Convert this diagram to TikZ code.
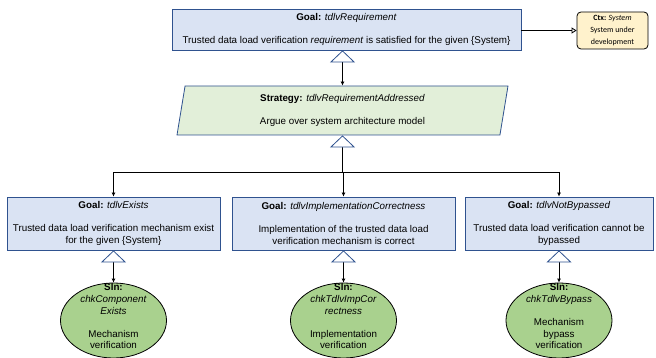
\documentclass[tikz,border=0pt]{standalone}
\usepackage{fontspec}
\setmainfont{Liberation Sans}
\newfontfamily\ctxfont{Carlito}
\usetikzlibrary{positioning}
\usetikzlibrary{arrows.meta}
\usetikzlibrary{shapes.geometric}
\definecolor{gfill}{HTML}{DAE3F3}
\definecolor{gline}{HTML}{2F528F}
\definecolor{sfill}{HTML}{E2EFD9}
\definecolor{efill}{HTML}{A9D18E}
\definecolor{cfill}{HTML}{FFF2CC}
\tikzset{goal/.style = {draw = gline, fill = gfill, line width = 0.8pt, align = center,
    inner sep = 0, font = \fontsize{9.8}{11.6}\selectfont}}
\tikzset{strat/.style = {goal, fill = sfill, shape = trapezium, trapezium left angle = 76,
    trapezium right angle = 104, trapezium stretches body}}
\tikzset{ctx/.style = {draw, fill = cfill, rounded corners = 4pt, line width = 0.8pt,
    align = center, inner sep = 0, font = \ctxfont\fontsize{8}{12}\selectfont}}
\tikzset{sln/.style = {draw, fill = efill, ellipse, line width = 0.8pt, inner sep = 0}}
\tikzset{slntxt/.style = {align = center, inner sep = 0, anchor = north,
    font = \fontsize{9.8}{11.6}\selectfont}}
\tikzset{opentri/.tip = {Triangle[open, width = 25pt, length = 12pt, color = gline, fill = white]}}
\tikzset{suppby/.style = {line width = 0.8pt, {opentri}-{Latex[length = 4pt, width = 4pt]}}}
\tikzset{suppstart/.style = {line width = 0.8pt, {opentri}-}}
\tikzset{suppend/.style = {line width = 0.8pt, -{Latex[length = 4pt, width = 4pt]}}}
\tikzset{inctx/.style = {line width = 0.8pt, -{Triangle[open, width = 6pt, length = 5pt, fill = white]}}}

\begin{document}
\begin{tikzpicture}[x = 1pt, y = -1pt]
      \useasboundingbox (0, 0) rectangle (656, 358);
      % top goal and its context
      \node [goal, minimum width = 349, minimum height = 41] (top) at (346.5, 29.5)
        {\textbf{Goal:} \textit{tdlvRequirement}\\[11.6pt]Trusted data load verification
        \textit{requirement} is satisfied for the given \{System\}};
      \node [ctx, minimum width = 71, minimum height = 37] (sys) at (612.5, 30.5)
        {\textbf{Ctx:} \textit{System}\\System under\\development};
      \draw [inctx] (top.east |- sys.west) -- (sys.west);
      % strategy
      \node [strat, minimum width = 331, minimum height = 49] (addr) at (342.5, 110.5)
        {\textbf{Strategy:} \textit{tdlvRequirementAddressed}\\[11.6pt]Argue over system
        architecture model};
      \draw [suppby] (addr.north |- top.south) -- (addr.north);
      % sub goals
      \node [goal, minimum width = 213, minimum height = 53] (exists) at (113.5, 223.5)
        {\textbf{Goal:} \textit{tdlvExists}\\[11.6pt]Trusted data load verification
        mechanism exist\\for the given \{System\}};
      \node [goal, minimum width = 223, minimum height = 53] (impl) at (343.5, 223.5)
        {\textbf{Goal:} \textit{tdlvImplementationCorrectness}\\[11.6pt]Implementation
        of the trusted data load\\verification mechanism is correct};
      \node [goal, minimum width = 188, minimum height = 53] (byp) at (559, 223.5)
        {\textbf{Goal:} \textit{tdlvNotBypassed}\\[11.6pt]Trusted data load verification
        cannot be\\bypassed};
      \coordinate (bus) at (addr.south |- 0, 172);
      \draw [suppstart] (addr.south) -- (bus);
      \draw [suppend] (bus) -| (exists.north);
      \draw [suppend] (bus) -| (impl.north);
      \draw [suppend] (bus) -| (byp.north);
      % solutions
      \node [sln, minimum width = 106, minimum height = 75] (s1) at (113.5, 320.5) {};
      \node [sln, minimum width = 106, minimum height = 75] (s2) at (343.5, 320.5) {};
      \node [sln, minimum width = 106, minimum height = 75] (s3) at (559, 320.5) {};
      \node [slntxt] (s1t) at ([yshift = -1pt] s1.north) {\textbf{Sln:}\\\textit{chkComponent}\\
        \textit{Exists}\\[11.6pt]Mechanism\\verification};
      \node [slntxt] (s2t) at ([yshift = -1pt] s2.north) {\textbf{Sln:}\\\textit{chkTdlvImpCor}\\
        \textit{rectness}\\[11.6pt]Implementation\\verification};
      \node [slntxt] (s3t) at ([yshift = -1pt] s3.north) {\textbf{Sln:}\\\textit{chkTdlvBypass}\\[11.6pt]
        Mechanism\\bypass\\verification};
      \draw [suppby] (exists.south) -- (s1.north);
      \draw [suppby] (impl.south) -- (s2.north);
      \draw [suppby] (byp.south) -- (s3.north);
\end{tikzpicture}
\end{document}
